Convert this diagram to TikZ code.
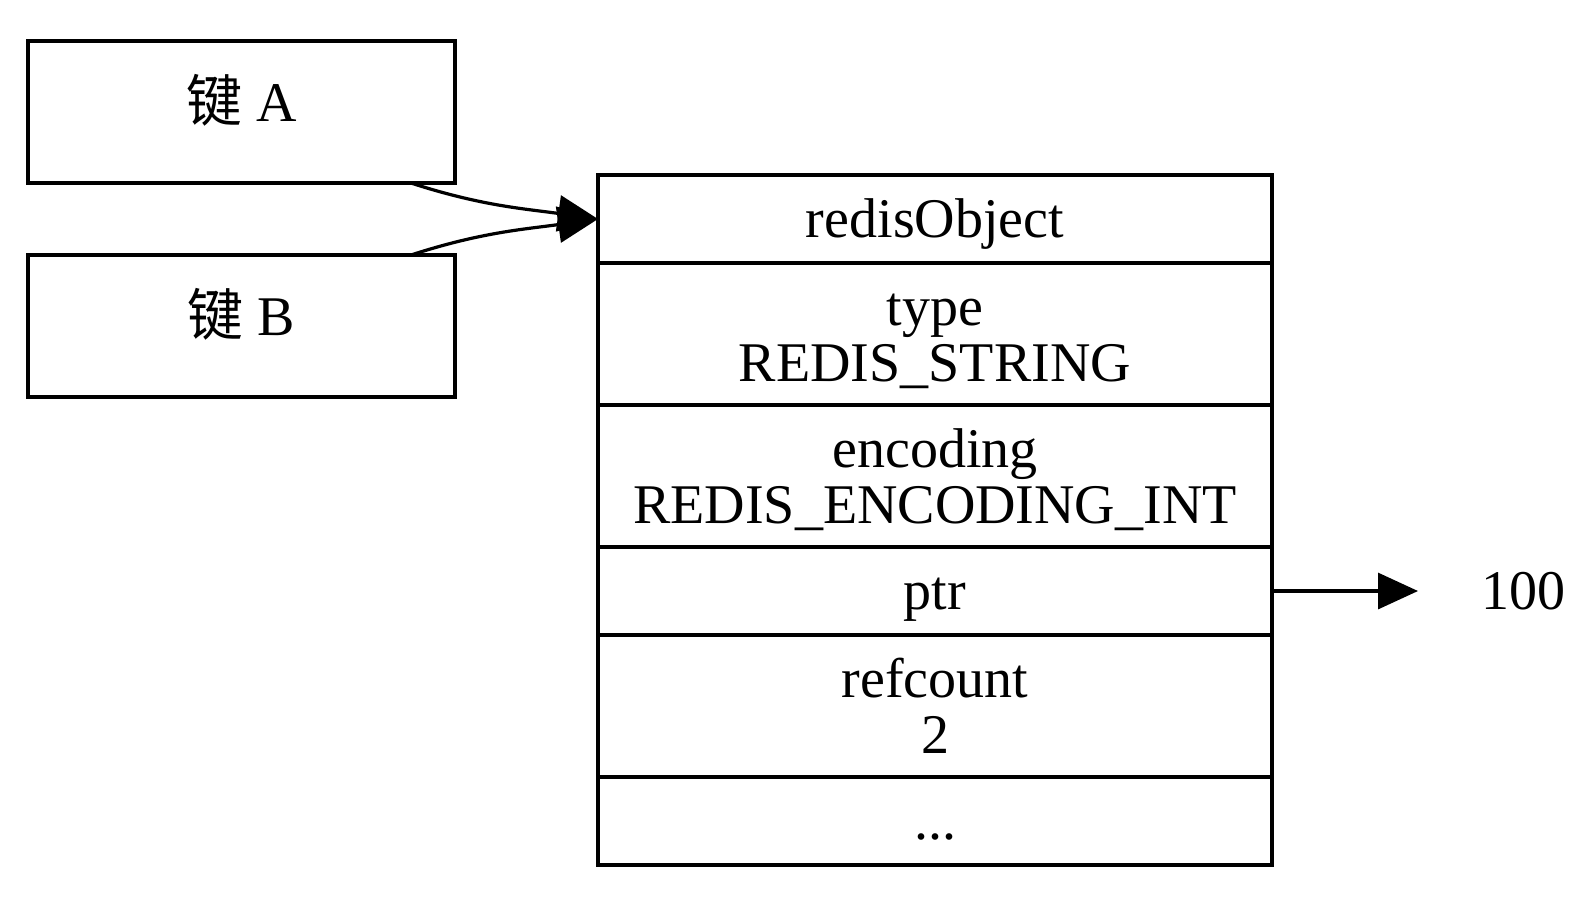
\documentclass[tikz,border=0pt]{standalone}
\usepackage{fontspec}
\setmainfont{Liberation Serif}
\newfontfamily\cjk{Noto Sans CJK SC}
\usepackage{tikz}
\usetikzlibrary{positioning, arrows.meta}
\tikzstyle{keybox} = [rectangle, minimum width=106.75pt, minimum height=35.5pt, draw=black, line width=0.9pt, outer sep=0pt, text height=7.5pt, text depth=3pt]
\tikzstyle{field} = [rectangle, minimum width=168.5pt, minimum height=22pt, draw=black, line width=0.9pt, outer sep=0pt, inner sep=0pt, align=center, text height=11pt, text depth=2pt]
\tikzstyle{field2} = [field, minimum height=35.5pt, text height=25.5pt, text depth=2pt]
\tikzstyle{arrow} = [line width=0.8pt,->,>={Triangle[length=10pt,width=9pt]}]
\newcommand{\jian}[1]{{\cjk 键} #1}

\begin{document}
\begin{tikzpicture}[font=\fontsize{14pt}{14pt}\selectfont]
\useasboundingbox (0,0) rectangle (396pt,-225.5pt);
\node (keyA) [keybox] at (60.375pt,-28pt) {\jian{A}};
\node (keyB) [keybox, below=18pt of keyA] {\jian{B}};
\node (robj) [field, below right=33.5pt and 35.75pt of keyA.north east] {redisObject};
\node (rtype) [field2, below=0pt of robj] {type\\REDIS\_STRING};
\node (renc) [field2, below=0pt of rtype] {encoding\\REDIS\_ENCODING\_INT};
\node (rptr) [field, below=0pt of renc] {ptr};
\node (rref) [field2, below=0pt of rptr] {refcount\\2};
\node (rmore) [field, below=0pt of rref] {...};
\node (val) [right=36.5pt of rptr, minimum width=52.5pt, inner sep=0pt, outer sep=0pt] {100};
\draw [arrow] ([xshift=-11pt]keyA.south east) to[out=-18,in=172] (robj.west);
\draw [arrow] ([xshift=-11pt]keyB.north east) to[out=18,in=188] (robj.west);
\draw [arrow] (rptr.east) -- (val.west);
\end{tikzpicture}
\end{document}
